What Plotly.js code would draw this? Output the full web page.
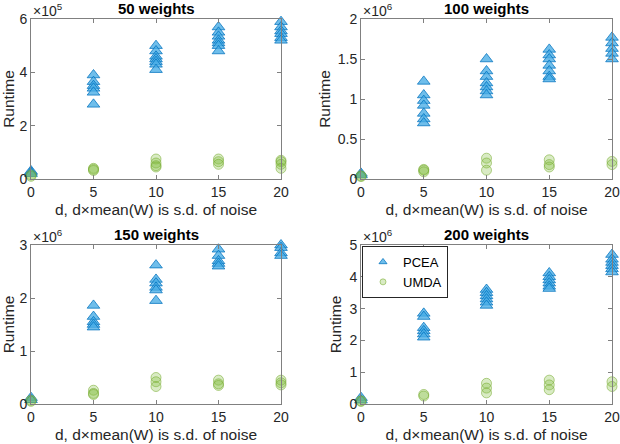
<!DOCTYPE html>
<html>
<head>
<meta charset="utf-8">
<script src="https://cdn.plot.ly/plotly-3.0.1.min.js"></script>
<style>html,body{margin:0;padding:0;background:#fff;}#chart{width:620px;height:444px;}</style>
</head>
<body>
<div id="chart"></div>
<script>
// noise levels d
const noiseLevels = [0, 5, 10, 15, 20];
const panelTitles = ["50 weights", "100 weights", "150 weights", "200 weights"];
const seriesNames = ["PCEA", "UMDA"];
const xTitle = "d, d\u00d7mean(W) is s.d. of noise";
const yTitle = "Runtime";

// runtime values per noise level (in units of the panel's exponent)
const pcea50  = [[0.3, 0.25, 0.2], [3.9, 3.65, 3.5, 3.4, 3.25, 2.8], [5.0, 4.8, 4.6, 4.5, 4.4, 4.3, 4.1], [5.7, 5.5, 5.35, 5.2, 5.1, 5.0, 4.8], [5.9, 5.7, 5.55, 5.45, 5.3, 5.2]];
const umda50  = [[0.15, 0.1], [0.4, 0.36, 0.32], [0.75, 0.6, 0.5, 0.45], [0.75, 0.65, 0.55], [0.7, 0.65, 0.55, 0.4]];
const pcea100 = [[0.07, 0.05], [1.22, 1.05, 0.98, 0.92, 0.82, 0.75, 0.70], [1.5, 1.35, 1.28, 1.2, 1.15, 1.1, 1.05], [1.62, 1.55, 1.5, 1.42, 1.35, 1.28, 1.25], [1.77, 1.7, 1.63, 1.57, 1.5]];
const umda100 = [[0.04, 0.03], [0.12, 0.11, 0.09], [0.26, 0.2, 0.11], [0.24, 0.18, 0.15], [0.22, 0.18]];
const pcea150 = [[0.12, 0.08], [1.86, 1.65, 1.55, 1.5, 1.45], [2.62, 2.35, 2.28, 2.2, 2.15, 1.95], [2.92, 2.8, 2.7, 2.65, 2.6], [3.05, 3.0, 2.95, 2.85, 2.8]];
const umda150 = [[0.07, 0.05], [0.26, 0.2, 0.18], [0.5, 0.42, 0.33], [0.45, 0.38, 0.35], [0.45, 0.4, 0.36]];
const pcea200 = [[0.2, 0.12], [2.85, 2.75, 2.4, 2.3, 2.2, 2.1], [3.6, 3.5, 3.4, 3.3, 3.2, 3.1], [4.12, 4.0, 3.9, 3.8, 3.7, 3.63], [4.7, 4.55, 4.45, 4.35, 4.25, 4.15]];
const umda200 = [[0.1, 0.08], [0.3, 0.25], [0.65, 0.5, 0.35], [0.75, 0.6, 0.45], [0.7, 0.55]];

const exponents = [5, 6, 6, 6];
const yMax = [6, 2, 3, 5];
const yTickVals = [[0, 2, 4, 6], [0, 0.5, 1, 1.5, 2], [0, 1, 2, 3], [0, 1, 2, 3, 4, 5]];
const yTickText = [["0", "2", "4", "6"], ["0", "0.5", "1", "1.5", "2"], ["0", "1", "2", "3"], ["0", "1", "2", "3", "4", "5"]];
const xTickVals = [0, 5, 10, 15, 20];
const xTickText = ["0", "5", "10", "15", "20"];

const pceaSets = [pcea50, pcea100, pcea150, pcea200];
const umdaSets = [umda50, umda100, umda150, umda200];

// layout geometry (pixels)
const W = 620, H = 444;
const colPx = [[31, 281], [361, 612]];
const rowPx = [[19, 179], [245, 404]];

function flatten(groups, scale) {
  const xs = [], ys = [];
  groups.forEach((g, i) => g.forEach(v => { xs.push(noiseLevels[i]); ys.push(v * scale); }));
  return {xs, ys};
}

const font = "Liberation Sans, Arial, Helvetica, sans-serif";
const pceaMarker = {symbol: "triangle-up", size: 11, color: "rgba(70,172,230,0.78)", line: {color: "rgba(0,114,189,0.75)", width: 1}};
const umdaMarker = {symbol: "circle", size: 10, color: "rgba(130,190,60,0.3)", line: {color: "rgba(119,172,48,0.55)", width: 1}};
const traces = [];
const layout = {
  width: W, height: H,
  margin: {l: 0, r: 0, t: 0, b: 0},
  paper_bgcolor: "#fff", plot_bgcolor: "#fff",
  font: {family: font, size: 13, color: "#262626"},
  showlegend: true,
  legend: {
    x: 362 / W, y: 1 - 246 / H, xanchor: "left", yanchor: "top",
    bgcolor: "#fff", bordercolor: "#262626", borderwidth: 1,
    font: {family: font, size: 13, color: "#000"},
    itemsizing: "trace", itemwidth: 30, tracegroupgap: 0
  },
  annotations: []
};

for (let p = 0; p < 4; p++) {
  const col = p % 2, row = Math.floor(p / 2);
  const ax = p === 0 ? "" : String(p + 1);
  const scale = Math.pow(10, exponents[p]);
  const a = flatten(pceaSets[p], scale);
  const b = flatten(umdaSets[p], scale);
  traces.push({
    type: "scatter", mode: "markers", x: a.xs, y: a.ys, name: seriesNames[0],
    xaxis: "x" + ax, yaxis: "y" + ax, cliponaxis: false,
    showlegend: false, legendgroup: "pcea", marker: pceaMarker
  });
  traces.push({
    type: "scatter", mode: "markers", x: b.xs, y: b.ys, name: seriesNames[1],
    xaxis: "x" + ax, yaxis: "y" + ax, cliponaxis: false,
    showlegend: false, legendgroup: "umda", marker: umdaMarker
  });
  const xd = [colPx[col][0] / W, colPx[col][1] / W];
  const yd = [1 - rowPx[row][1] / H, 1 - rowPx[row][0] / H];
  layout["xaxis" + ax] = {
    domain: xd, range: [0, 20], anchor: "y" + ax,
    tickvals: xTickVals, ticktext: xTickText,
    ticks: "inside", ticklen: 4, tickcolor: "#808080", mirror: "ticks",
    showline: true, linecolor: "#808080", linewidth: 1,
    showgrid: false, zeroline: false,
    tickfont: {size: 14, color: "#262626"},
    title: {text: xTitle, font: {size: 15.5, color: "#262626"}, standoff: 5}
  };
  layout["yaxis" + ax] = {
    domain: yd, range: [0, yMax[p] * scale], anchor: "x" + ax,
    tickvals: yTickVals[p].map(v => v * scale), ticktext: yTickText[p],
    ticks: "inside", ticklen: 4, tickcolor: "#808080", mirror: "ticks",
    showline: true, linecolor: "#808080", linewidth: 1,
    showgrid: false, zeroline: false,
    tickfont: {size: 14, color: "#262626"},
    title: {text: yTitle, font: {size: 15.5, color: "#262626"}, standoff: 3}
  };
  // panel title
  layout.annotations.push({
    text: "<b>" + panelTitles[p] + "</b>", xref: "paper", yref: "paper",
    x: (xd[0] + xd[1]) / 2, y: yd[1], xanchor: "center", yanchor: "bottom", yshift: 0,
    showarrow: false, font: {size: 15, color: "#000"}
  });
  // exponent label
  layout.annotations.push({
    text: "\u00d710<sup>" + exponents[p] + "</sup>", xref: "paper", yref: "paper",
    x: xd[0], y: yd[1], xanchor: "left", yanchor: "bottom", yshift: -2,
    showarrow: false, font: {size: 14, color: "#262626"}
  });
}

// legend entries (small symbols as in the reference)
traces.push({
  type: "scatter", mode: "markers", x: [null], y: [null], name: seriesNames[0],
  xaxis: "x4", yaxis: "y4", showlegend: true, legendgroup: "pcea",
  marker: Object.assign({}, pceaMarker, {size: 7})
});
traces.push({
  type: "scatter", mode: "markers", x: [null], y: [null], name: seriesNames[1],
  xaxis: "x4", yaxis: "y4", showlegend: true, legendgroup: "umda",
  marker: Object.assign({}, umdaMarker, {size: 6})
});

Plotly.newPlot("chart", traces, layout, {staticPlot: true, displayModeBar: false});
</script>
</body>
</html>
